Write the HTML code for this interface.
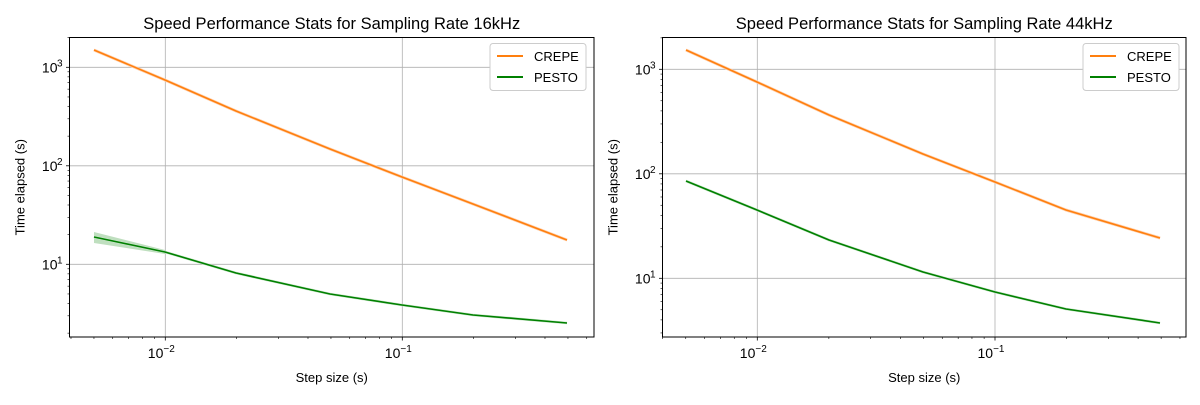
<!DOCTYPE html><html><head><style>body{margin:0;background:#fff}svg{font-family:"Liberation Sans","DejaVu Sans",sans-serif}</style></head><body>
<svg id="s" width="1200" height="400" xmlns="http://www.w3.org/2000/svg"></svg>
<script>
const s=document.getElementById('s');let h='';
function ax(o){
 const {L,R,T,B,yd,y10,xd,x1e2,title,crepe,pesto,lx}=o;
 const Y=v=>y10-(Math.log10(v)-1)*yd, X=v=>x1e2+(Math.log10(v)+2)*xd;
 [1e-2,1e-1].forEach(v=>{h+=`<line x1="${X(v)}" x2="${X(v)}" y1="${T}" y2="${B}" stroke="#b0b0b0" stroke-width="0.8"/>`;});
 [10,100,1000].forEach(v=>{if(Y(v)>T&&Y(v)<B)h+=`<line x1="${L}" x2="${R}" y1="${Y(v)}" y2="${Y(v)}" stroke="#b0b0b0" stroke-width="0.8"/>`;});
 for(let e=-3;e<=0;e++)for(let m=1;m<10;m++){const v=m*Math.pow(10,e),x=X(v);if(x>L&&x<R){const mj=m==1;h+=`<line x1="${x}" x2="${x}" y1="${B}" y2="${B+(mj?3.5:2)}" stroke="#000" stroke-width="${mj?0.8:0.6}"/>`;}}
 for(let e=0;e<=3;e++)for(let m=1;m<10;m++){const v=m*Math.pow(10,e),y=Y(v);if(y>T&&y<B){const mj=m==1;h+=`<line x1="${L}" x2="${L-(mj?3.5:2)}" y1="${y}" y2="${y}" stroke="#000" stroke-width="${mj?0.8:0.6}"/>`;}}
 [[1e-2,'−2'],[1e-1,'−1']].forEach(([v,t])=>{h+=`<text x="${X(v)-4}" y="${B+21}" font-size="14" text-anchor="middle">10<tspan font-size="10" dy="-6">${t}</tspan></text>`;});
 [[10,'1'],[100,'2'],[1000,'3']].forEach(([v,t])=>{h+=`<text x="${L-12}" y="${Y(v)+5}" font-size="14" text-anchor="end">10</text><text x="${L-7}" y="${Y(v)-1}" font-size="10" text-anchor="end">${t}</text>`;});
 const pl=(p,c,w)=>`<polyline points="${p.map(q=>q.join(',')).join(' ')}" fill="none" stroke="${c}" stroke-width="${w}" stroke-linejoin="round"/>`;
 if(o.band)h+=`<polygon points="${o.band}" fill="#008000" fill-opacity="0.25"/>`;
 h+=pl(crepe,'#ffd2b0',3)+pl(crepe,'#ff7f0e',1.6);
 h+=pl(pesto,'#c8e6c8',2.6)+pl(pesto,'#008000',1.6);
 h+=`<rect x="${L}" y="${T}" width="${R-L}" height="${B-T}" fill="none" stroke="#000" stroke-width="1"/>`;
 h+=`<text x="${(L+R)/2}" y="29" font-size="16.5" text-anchor="middle">${title}</text>`;
 h+=`<text x="${(L+R)/2}" y="382" font-size="13" text-anchor="middle">Step size (s)</text>`;
 h+=`<text transform="translate(${L-45},${(T+B)/2}) rotate(-90)" font-size="13" text-anchor="middle">Time elapsed (s)</text>`;
 h+=`<rect x="${lx}" y="43.5" width="96" height="47" rx="3" fill="#fff" stroke="#ccc"/>`;
 h+=`<line x1="${lx+7}" x2="${lx+33}" y1="56" y2="56" stroke="#ff7f0e" stroke-width="2"/><text x="${lx+44}" y="61" font-size="13">CREPE</text>`;
 h+=`<line x1="${lx+7}" x2="${lx+33}" y1="77" y2="77" stroke="#008000" stroke-width="2"/><text x="${lx+44}" y="82" font-size="13">PESTO</text>`;
}
ax({L:69.5,R:594,T:37.5,B:337,yd:98.5,y10:264.3,xd:237,x1e2:165.3,lx:490,
 title:'Speed Performance Stats for Sampling Rate 16kHz',band:'94,232 165,250 165,254 94,243',
 crepe:[[94,50],[165,80],[236,111],[330,149],[402,177],[473,204],[567,240]],
 pesto:[[94,237],[165,252],[236,273],[330,294],[402,305],[473,315],[567,323]]});
ax({L:662.5,R:1186,T:37.5,B:337,yd:104.5,y10:278.3,xd:237.7,x1e2:757.3,lx:1083,
 title:'Speed Performance Stats for Sampling Rate 44kHz',
 crepe:[[686,50],[757,82],[829,115],[923,154],[995,182],[1066,210],[1160,238]],
 pesto:[[686,181],[757,210],[829,240],[923,272],[995,292],[1066,309],[1160,323]]});
s.innerHTML=h;
</script></body></html>
